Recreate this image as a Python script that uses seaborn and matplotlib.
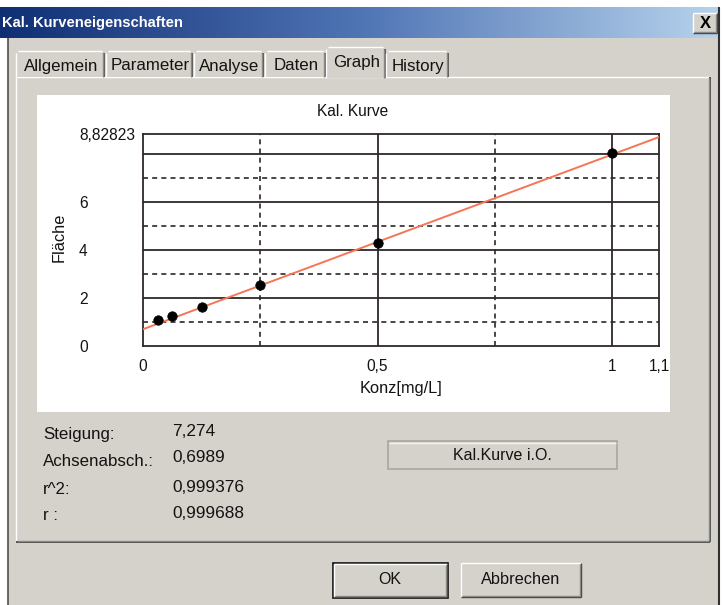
import numpy as np
import matplotlib
matplotlib.use("Agg")
import matplotlib.pyplot as plt
import seaborn as sns
from matplotlib.patches import Rectangle
from matplotlib.colors import LinearSegmentedColormap

# Calibration standards: concentration [mg/L] and peak area
konz = [0.03125, 0.0625, 0.125, 0.25, 0.5, 1.0]
flaeche = [1.08, 1.25, 1.64, 2.55, 4.28, 8.05]

# Regression results
steigung = 7.274
achsenabschnitt = 0.6989
stat_labels = ["Steigung:", "Achsenabsch.:", "r^2:", "r :"]
stat_values = ["7,274", "0,6989", "0,999376", "0,999688"]

# Axis ticks and grid
x_ticks = [0, 0.5, 1, 1.1]
x_tick_labels = ["0", "0,5", "1", "1,1"]
y_ticks = [0, 2, 4, 6, 8.82823]
y_tick_labels = ["0", "2", "4", "6", "8,82823"]
x_grid_solid = [0.5, 1.0]
x_grid_dashed = [0.25, 0.75]
y_grid_solid = [2, 4, 6, 8]
y_grid_dashed = [1, 3, 5, 7]

tabs = ["Allgemein", "Parameter", "Analyse", "Daten", "Graph", "History"]
active_tab = "Graph"

sns.set_theme(style="white")
plt.rcParams["font.family"] = ["Liberation Sans", "DejaVu Sans"]

W, H = 724, 605
FACE = "#d5d2cb"
DARK = "#404040"
SHADOW = "#8a8884"
GRID = "#2e2828"
TXT = "#141212"

fig = plt.figure(figsize=(W / 100, H / 100), dpi=100)
fig.patch.set_facecolor("white")

# ---- dialog chrome, drawn in pixel coordinates ----
bg = fig.add_axes([0, 0, 1, 1])
bg.set_xlim(0, W)
bg.set_ylim(H, 0)
bg.axis("off")


def hline(x0, x1, y, c, lw=1.0):
    bg.plot([x0, x1], [y, y], color=c, lw=lw, solid_capstyle="butt")


def vline(x, y0, y1, c, lw=1.0):
    bg.plot([x, x], [y0, y1], color=c, lw=lw, solid_capstyle="butt")


def raised(x0, y0, x1, y1, default=False):
    bg.add_patch(Rectangle((x0, y0), x1 - x0, y1 - y0, fc=FACE, ec="none"))
    hline(x0, x1, y0, "white")
    vline(x0, y0, y1, "white")
    hline(x0, x1, y1, DARK)
    vline(x1, y0, y1, DARK)
    hline(x0 + 1, x1 - 1, y1 - 1, SHADOW)
    vline(x1 - 1, y0 + 1, y1 - 1, SHADOW)
    if default:
        bg.add_patch(Rectangle((x0 - 1, y0 - 1), x1 - x0 + 2, y1 - y0 + 2,
                               fc="none", ec="#101010", lw=1.2))


# window body
bg.add_patch(Rectangle((8, 7), 711, H - 7, fc=FACE, ec="none"))
vline(8, 38, H, "#505050", 1.2)
vline(718.5, 7, H, "#303030", 1.5)

# title bar with gradient
grad = LinearSegmentedColormap.from_list("tb", ["#102e74", "#4f74b4", "#b6d2ec"])
bg.imshow(np.linspace(0, 1, 256)[None, :], cmap=grad, aspect="auto",
          extent=(0, 718, 38, 7), zorder=1)
bg.text(2, 23, "Kal. Kurveneigenschaften", color="white", fontsize=10.6,
        fontweight="bold", va="center", ha="left", zorder=3)
raised(693, 13, 717, 33)
bg.text(705, 23.5, "X", fontsize=12, fontweight="bold", ha="center",
        va="center", color="black", zorder=3)

# tab panel
bg.add_patch(Rectangle((16, 77), 694, 465, fc=FACE, ec="none"))
vline(16, 77, 542, "white")
hline(16, 710, 77, "white")
vline(710, 77, 542, DARK, 1.3)
vline(709, 78, 541, SHADOW)
hline(16, 710, 542, DARK, 1.3)
hline(17, 709, 541, SHADOW)

# tabs
tab_spans = [(16, 104), (106, 192), (194, 263), (265, 325), (326, 385), (386, 448)]
for name, (x0, x1) in zip(tabs, tab_spans):
    sel = name == active_tab
    top = 47 if sel else 51
    bottom = 78 if sel else 77
    bg.add_patch(Rectangle((x0, top), x1 - x0, bottom - top, fc=FACE, ec="none", zorder=2))
    vline(x0, bottom, top + 2, "white")
    hline(x0 + 2, x1 - 2, top, "white")
    vline(x1, top + 2, bottom, DARK, 1.2)
    vline(x1 - 1, top + 2, bottom, SHADOW)
    bg.text((x0 + x1) / 2 + 1, top + 15, name, fontsize=12.2, ha="center",
            va="center", color=TXT, zorder=3)

# white chart area
bg.add_patch(Rectangle((37, 95), 633, 317, fc="white", ec="none"))

# regression statistics
for i, (lab, val) in enumerate(zip(stat_labels, stat_values)):
    yc = [435, 461, 490, 516][i]
    bg.text(43, yc, lab, fontsize=12.2, ha="left", va="center", color=TXT)
    bg.text(172, yc - 3, val, fontsize=12.4, ha="left", va="center", color=TXT)

# status field
bg.add_patch(Rectangle((388, 441), 229, 28, fc=FACE, ec="#a8a6a0", lw=1.2))
hline(389, 616, 442.5, "#f4f4f2")
bg.text(502, 455, "Kal.Kurve i.O.", fontsize=11.5, ha="center", va="center",
        color=TXT)

# buttons
raised(334, 564, 447, 597, default=True)
bg.text(390, 580, "OK", fontsize=11.5, ha="center", va="center", color=TXT)
raised(461, 563, 581, 597)
bg.text(521, 580, "Abbrechen", fontsize=11.8, ha="center", va="center", color=TXT)

# ---- calibration chart ----
ax = fig.add_axes([143 / W, 1 - 346 / H, 516 / W, 212 / H])
ax.set_facecolor("white")
ax.set_xlim(0, 1.1)
ax.set_ylim(0, 8.82823)

for v in x_grid_solid:
    ax.axvline(v, color=GRID, lw=1.3, zorder=1)
for v in y_grid_solid:
    ax.axhline(v, color=GRID, lw=1.3, zorder=1)
for v in x_grid_dashed:
    ax.axvline(v, color=GRID, lw=1.2, ls=(0, (3, 2.5)), zorder=1)
for v in y_grid_dashed:
    ax.axhline(v, color=GRID, lw=1.2, ls=(0, (3, 2.5)), zorder=1)

x_fit = np.array([0.0, 1.1])
sns.lineplot(x=x_fit, y=steigung * x_fit + achsenabschnitt, ax=ax,
             color="#f47656", lw=1.4, zorder=3)
sns.scatterplot(x=konz, y=flaeche, ax=ax, color="black", edgecolor="black",
                s=46, zorder=5)

for sp in ax.spines.values():
    sp.set_color(GRID)
    sp.set_linewidth(1.3)
    sp.set_visible(True)

ax.set_xticks(x_ticks)
ax.set_xticklabels(x_tick_labels, fontsize=11.2)
ax.set_yticks(y_ticks)
ax.set_yticklabels(y_tick_labels, fontsize=11.2)
ax.tick_params(axis="x", length=0, pad=9, colors=TXT)
ax.tick_params(axis="y", length=0, pad=46, colors=TXT)
for t in ax.get_yticklabels():
    t.set_horizontalalignment("left")
ax.set_xlabel("")
ax.set_ylabel("")

bg.text(353, 111, "Kal. Kurve", fontsize=11.2, ha="center", va="center", color=TXT)
bg.text(401, 389, "Konz[mg/L]", fontsize=11.8, ha="center", va="center", color=TXT)
bg.text(59, 237, "Fläche", fontsize=11.8, ha="center", va="center", rotation=90,
        color=TXT)

fig.savefig("out.png", dpi=100)
